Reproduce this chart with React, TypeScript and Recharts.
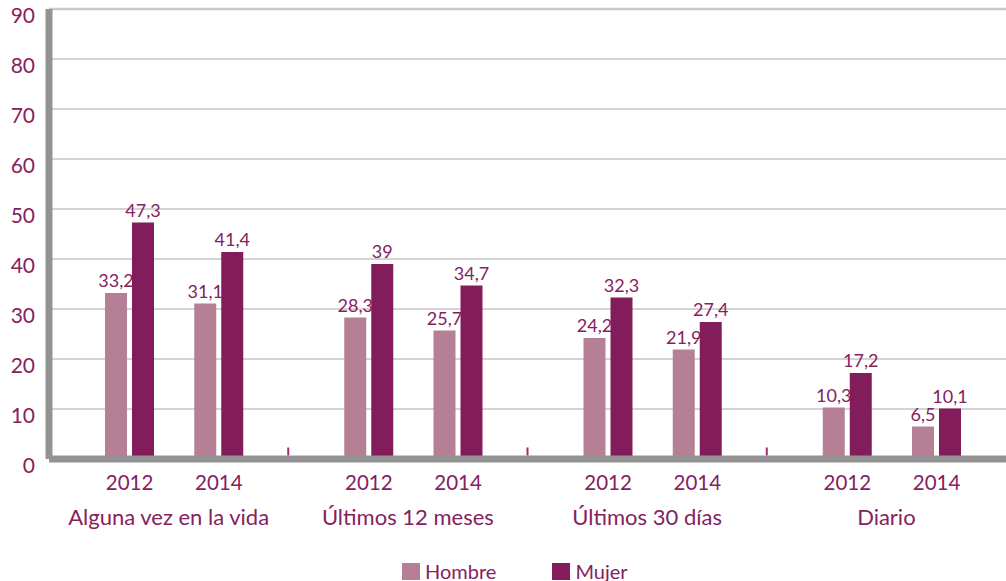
import React from 'react';
import { BarChart, Bar, XAxis, YAxis, CartesianGrid, LabelList, Legend, ReferenceLine } from 'recharts';

const CATEGORIES = ['Alguna vez en la vida', 'Últimos 12 meses', 'Últimos 30 días', 'Diario'];
const YEARS = ['2012', '2014'];
// one pair per category: [2012, 2014]
const HOMBRE = [[33.2, 31.1], [28.3, 25.7], [24.2, 21.9], [10.3, 6.5]];
const MUJER = [[47.3, 41.4], [39, 34.7], [32.3, 27.4], [17.2, 10.1]];
const Y_TICKS = [0, 10, 20, 30, 40, 50, 60, 70, 80, 90];

const FONT = 'Lato, "Open Sans", sans-serif';
const PURPLE = '#86215f';
const COLOR_HOMBRE = '#b58095';
const COLOR_MUJER = '#831c5a';
const AXIS_GRAY = '#939393';

// where each year's pair of bars sits inside its category group (0..1)
const YEAR_SLOT = [0.337, 0.71];

const rows = CATEGORIES.flatMap((cat, gi) =>
  YEARS.map((year, yi) => ({
    x: gi + YEAR_SLOT[yi],
    categoria: cat,
    year,
    hombre: HOMBRE[gi][yi],
    mujer: MUJER[gi][yi],
  }))
);

const yearTicks = rows.map(r => r.x);
const groupTicks = CATEGORIES.map((_, i) => i + 0.5);
const groupBounds = CATEGORIES.slice(1).map((_, i) => i + 1);

const fmt = (v: any) => String(v).replace('.', ',');

const LegendBox = ({ payload }: any) => (
  <div
    style={{
      display: 'flex',
      alignItems: 'center',
      height: 44,
      paddingLeft: 402,
      paddingTop: 24,
      boxSizing: 'border-box',
      fontFamily: FONT,
      fontSize: 20,
      color: PURPLE,
    }}
  >
    {(payload || []).map((p: any, i: number) => (
      <div key={p.value} style={{ display: 'flex', alignItems: 'center', marginRight: i === 0 ? 56 : 0 }}>
        <span style={{ width: 18, height: 17, background: p.color, display: 'inline-block', marginRight: 5 }} />
        <span style={{ lineHeight: '20px' }}>{p.value}</span>
      </div>
    ))}
  </div>
);

export default function App() {
  return (
    <div style={{ position: 'absolute', left: 0, top: 0, width: 1006, height: 581, background: '#fff' }}>
      <BarChart
        width={1006}
        height={581}
        data={rows}
        margin={{ top: 9, right: 0, bottom: 0, left: 0 }}
        barGap={5}
        style={{ fontFamily: FONT }}
      >
        <CartesianGrid vertical={false} stroke="#a8a8a8" strokeWidth={1} />
        <ReferenceLine y={90} stroke="#c8c8c8" strokeWidth={2.5} />
        <YAxis
          type="number"
          domain={[0, 90]}
          ticks={Y_TICKS}
          interval={0}
          width={49}
          axisLine={{ stroke: AXIS_GRAY, strokeWidth: 7 }}
          tickLine={false}
          tickMargin={8}
          tick={{ fill: PURPLE, fontSize: 21, fontFamily: FONT, dy: 7 }}
        />
        <XAxis
          type="number"
          dataKey="x"
          domain={[0, 4]}
          ticks={yearTicks}
          interval={0}
          height={38}
          axisLine={{ stroke: AXIS_GRAY, strokeWidth: 7 }}
          tickLine={false}
          tickSize={6}
          tickMargin={10}
          tickFormatter={(v: number) => rows.find(r => r.x === v)?.year ?? ''}
          tick={{ fill: PURPLE, fontSize: 20.5, fontFamily: FONT }}
        />
        <XAxis
          xAxisId="grupo"
          type="number"
          dataKey="x"
          domain={[0, 4]}
          allowDataOverflow
          ticks={groupTicks}
          interval={0}
          height={40}
          axisLine={false}
          tickLine={false}
          tickSize={0}
          tickMargin={12}
          tickFormatter={(v: number) => CATEGORIES[Math.floor(v)]}
          tick={{ fill: PURPLE, fontSize: 22, fontFamily: FONT }}
        />
        {groupBounds.map(b => (
          <ReferenceLine
            key={b}
            segment={[{ x: b, y: 0.7 }, { x: b, y: 2.3 }]}
            stroke="#9c2b70"
            strokeWidth={2}
          />
        ))}
        <Legend content={<LegendBox />} verticalAlign="bottom" />
        <Bar dataKey="hombre" name="Hombre" fill={COLOR_HOMBRE} barSize={22} isAnimationActive={false}>
          <LabelList dataKey="hombre" position="top" offset={6} formatter={fmt} fill={PURPLE} fontSize={18} fontFamily={FONT} />
        </Bar>
        <Bar dataKey="mujer" name="Mujer" fill={COLOR_MUJER} barSize={22} isAnimationActive={false}>
          <LabelList dataKey="mujer" position="top" offset={6} formatter={fmt} fill={PURPLE} fontSize={18} fontFamily={FONT} />
        </Bar>
      </BarChart>
    </div>
  );
}
